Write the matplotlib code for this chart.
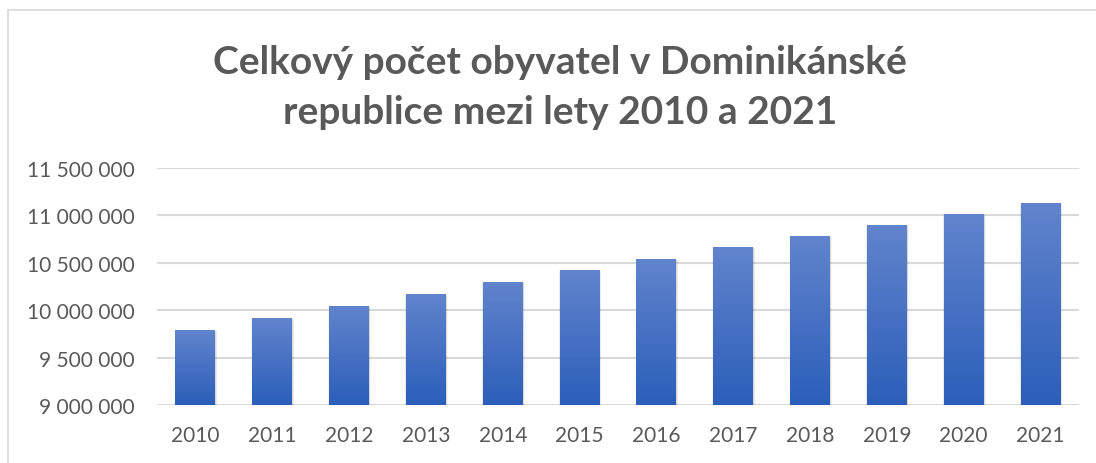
import matplotlib
matplotlib.use("Agg")
import matplotlib.pyplot as plt
import numpy as np
from matplotlib.patches import Rectangle
from matplotlib.ticker import FuncFormatter

years = ["2010", "2011", "2012", "2013", "2014", "2015",
         "2016", "2017", "2018", "2019", "2020", "2021"]
population = [9782000, 9908000, 10035000, 10161000, 10287000, 10414000,
              10530000, 10656000, 10772000, 10887000, 11003000, 11119000]
title_lines = ["Celkový počet obyvatel v Dominikánské",
               "republice mezi lety 2010 a 2021"]

plt.rcParams['font.family'] = ['Lato', 'DejaVu Sans']
text_color = "#595959"

W, H = 1096, 464
fig = plt.figure(figsize=(W / 100, H / 100), dpi=100)
fig.patch.set_facecolor("white")

# chart frame
fig.add_artist(Rectangle((8 / W, -0.1), 1.2, 1 - 11 / H + 0.1,
                         transform=fig.transFigure, fill=False,
                         edgecolor="#d9d9d9", linewidth=1.2))

ax = fig.add_axes([157 / W, 1 - 406.3 / H, (1079 - 157) / W, (406.3 - 168.7) / H])
ymin, ymax = 9_000_000, 11_500_000

x = np.arange(len(years))
bw = 0.52
heights = np.array(population) - ymin

# soft shadow
for k, a in [(3, 0.03), (2, 0.05), (1, 0.07)]:
    ax.bar(x + 0.006, heights, width=bw + 0.012 * k,
           bottom=ymin, color="black", alpha=a, zorder=2, linewidth=0)

bars = ax.bar(x, heights, width=bw, bottom=ymin,
              color="#4472c4", zorder=3, linewidth=0)

top_c = np.array([0x61, 0x84, 0xcd]) / 255
bot_c = np.array([0x2c, 0x5e, 0xb9]) / 255
grad = np.linspace(0, 1, 256)[:, None]
img = top_c[None, None, :] * (1 - grad[..., None]) + bot_c[None, None, :] * grad[..., None]
for b in bars:
    x0 = b.get_x()
    w = b.get_width()
    y0 = b.get_y()
    h = b.get_height()
    ax.imshow(img, extent=[x0, x0 + w, y0, y0 + h], aspect='auto',
              origin='upper', zorder=4, interpolation='bilinear')
ax.set_xlim(-0.5, len(years) - 0.5)
ax.set_ylim(ymin, ymax)
ax.set_aspect('auto')

ax.set_yticks(np.arange(ymin, ymax + 1, 500_000))
ax.yaxis.set_major_formatter(FuncFormatter(lambda v, p: f"{int(v):,}".replace(",", " ")))
ax.set_xticks(x)
ax.set_xticklabels(years)
ax.grid(axis='y', color="#d9d9d9", linewidth=1.5, zorder=0)
ax.set_axisbelow(True)
for s in ax.spines.values():
    s.set_visible(False)
ax.tick_params(axis='both', length=0, labelsize=15, colors=text_color)
ax.tick_params(axis='y', pad=16)
ax.tick_params(axis='x', pad=14)

fig.text(560 / W, 1 - 74 / H, title_lines[0], ha='center', va='baseline',
         fontsize=28, fontweight='bold', color=text_color)
fig.text(560 / W, 1 - 124 / H, title_lines[1], ha='center', va='baseline',
         fontsize=28, fontweight='bold', color=text_color)

fig.savefig("out.png", dpi=100)
